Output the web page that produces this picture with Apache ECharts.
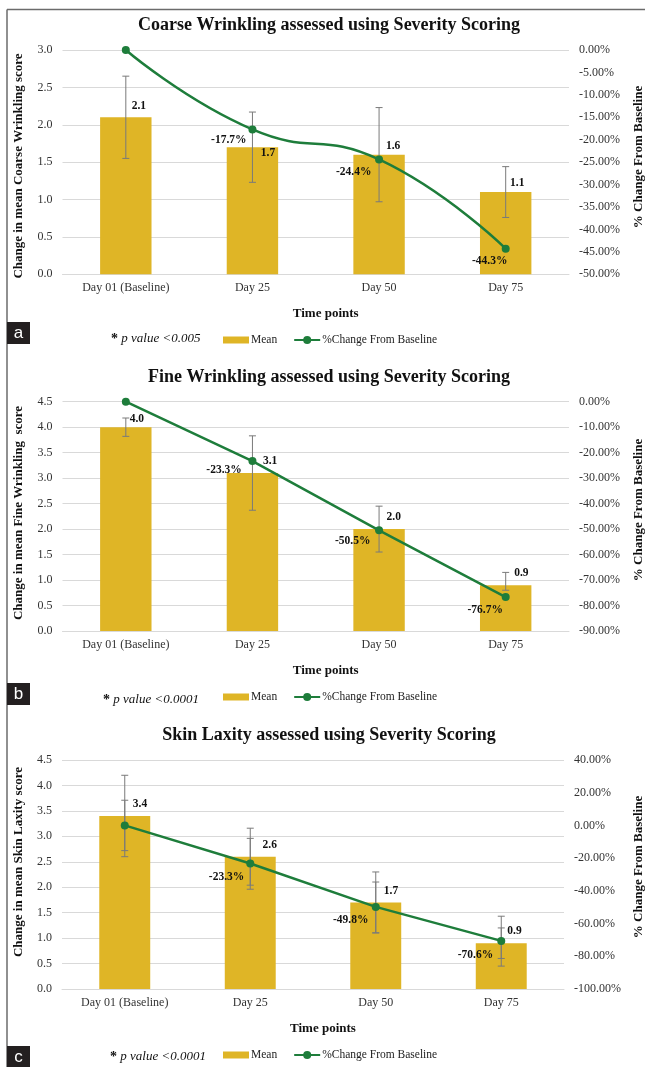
<!DOCTYPE html>
<html>
<head>
<meta charset="utf-8">
<title>Severity Scoring</title>
<script src="https://cdn.jsdelivr.net/npm/echarts@6/dist/echarts.min.js"></script>
<style>
  html, body { margin: 0; padding: 0; background: #fff; }
  #chart { width: 645px; height: 1067px; }
</style>
</head>
<body>
<div id="chart"></div>
<script>
// ---- data ----
const categories = ['Day 01 (Baseline)', 'Day 25', 'Day 50', 'Day 75'];

const coarseMean = [2.1, 1.7, 1.6, 1.1];
const coarsePct = [0, -17.7, -24.4, -44.3];
const coarseErrLow = [1.55, 1.23, 0.97, 0.76];
const coarseErrHigh = [2.65, 2.17, 2.23, 1.44];

const fineMean = [4.0, 3.1, 2.0, 0.9];
const finePct = [0, -23.3, -50.5, -76.7];
const fineErrLow = [3.82, 2.37, 1.55, 0.80];
const fineErrHigh = [4.18, 3.83, 2.45, 1.15];

const laxityMean = [3.4, 2.6, 1.7, 0.9];
const laxityPct = [0, -23.3, -49.8, -70.6];
const laxityErrLow = [2.60, 2.04, 1.10, 0.60];
const laxityErrHigh = [4.20, 3.16, 2.30, 1.20];
const laxityPctErrLow = [-15.4, -39.0, -65.6, -86.0];
const laxityPctErrHigh = [15.4, -7.9, -34.6, -55.5];

const titles = [
  'Coarse Wrinkling assessed using Severity Scoring',
  'Fine Wrinkling assessed using Severity Scoring',
  'Skin Laxity assessed using Severity Scoring'
];
const leftAxisNames = [
  'Change in mean Coarse Wrinkling score',
  'Change in mean Fine Wrinkling  score',
  'Change in mean Skin Laxity score'
];
const rightAxisName = '% Change From Baseline';
const xAxisName = 'Time points';
const pValues = ['p value <0.005', 'p value <0.0001', 'p value <0.0001'];
const panelLetters = ['a', 'b', 'c'];
const meanName = 'Mean';
const pctName = '%Change From Baseline';

// left/right axis ranges
const leftMax = [3, 4.5, 4.5];
const rightMin = [-50, -90, -100];
const rightMax = [0, 0, 40];
const rightStep = [5, 10, 20];

// ---- layout & style ----
const SERIF = '"Liberation Serif", "Times New Roman", serif';
const BAR = '#DFB526';
const GREEN = '#1E7D3B';
const GRID_LINE = '#D9D9D9';
const ERR = '#7a7a7a';

const grids = [
  { left: 62.5, top: 50, width: 506.5, height: 224.3 },
  { left: 62.5, top: 401.7, width: 506.5, height: 229.3 },
  { left: 62, top: 760, width: 502, height: 229 }
];
const titleY = [25, 377, 735];
const leftNameY = [166, 513, 862];
const rightNameY = [157, 510, 867];
const timePointsY = [314, 671, 1029];
const legendY = [339, 696, 1054];
const pValueY = [337, 698, 1055];
const pValueX = [111, 103, 110];
const letterBoxY = [322, 683, 1046];

// label offsets (label centre relative to bar top / point centre)
const barLabelOffsets = [
  [[13, -11], [15.5, 6], [14, -8.5], [11.5, -8.7]],
  [[11, -8], [17.7, -12], [14.7, -11.8], [15.7, -11.9]],
  [[15.2, -11.7], [19.5, -11.7], [15.2, -11.8], [13.3, -12.5]]
];
const pctLabelOffsets = [
  [null, [-23.6, 10.7], [-25.3, 12.4], [-16, 12]],
  [null, [-28.4, 9.3], [-26.3, 10.4], [-20.5, 13]],
  [null, [-23.7, 13.8], [-25.1, 12.8], [-25.8, 14.1]]
];

const panels = [
  { mean: coarseMean, pct: coarsePct, lo: coarseErrLow, hi: coarseErrHigh, smooth: true },
  { mean: fineMean, pct: finePct, lo: fineErrLow, hi: fineErrHigh, smooth: false },
  { mean: laxityMean, pct: laxityPct, lo: laxityErrLow, hi: laxityErrHigh, smooth: false,
    pctLo: laxityPctErrLow, pctHi: laxityPctErrHigh }
];

function errorBars(gi, yIndex, low, high) {
  return {
    type: 'custom',
    xAxisIndex: gi,
    yAxisIndex: yIndex,
    z: 3,
    silent: true,
    data: low.map((l, i) => [i, l, high[i]]),
    encode: { x: 0, y: [1, 2] },
    renderItem: function (params, api) {
      const x = api.value(0);
      const a = api.coord([x, api.value(1)]);
      const b = api.coord([x, api.value(2)]);
      const cap = 3.5;
      const style = { stroke: ERR, lineWidth: 1 };
      return {
        type: 'group',
        children: [
          { type: 'line', shape: { x1: a[0], y1: a[1], x2: b[0], y2: b[1] }, style: style },
          { type: 'line', shape: { x1: a[0] - cap, y1: a[1], x2: a[0] + cap, y2: a[1] }, style: style },
          { type: 'line', shape: { x1: b[0] - cap, y1: b[1], x2: b[0] + cap, y2: b[1] }, style: style }
        ]
      };
    }
  };
}

const xAxis = [], yAxis = [], series = [], legend = [], graphic = [];

// outer frame (top and left edges)
graphic.push({ type: 'line', shape: { x1: 7, y1: 9.5, x2: 645, y2: 9.5 }, style: { stroke: '#6b6b6b', lineWidth: 1.5 } });
graphic.push({ type: 'line', shape: { x1: 7, y1: 9.5, x2: 7, y2: 1067 }, style: { stroke: '#6b6b6b', lineWidth: 1.5 } });

panels.forEach((p, gi) => {
  const g = grids[gi];
  xAxis.push({
    type: 'category', gridIndex: gi, data: categories,
    axisTick: { show: false },
    axisLine: { lineStyle: { color: GRID_LINE, width: 1 } },
    axisLabel: { fontFamily: SERIF, fontSize: 12, color: '#333', margin: 8 }
  });
  yAxis.push({
    type: 'value', gridIndex: gi, min: 0, max: leftMax[gi], interval: 0.5,
    axisLine: { show: false }, axisTick: { show: false },
    splitLine: { lineStyle: { color: GRID_LINE, width: 1 } },
    axisLabel: { fontFamily: SERIF, fontSize: 12, color: '#333', margin: 10,
      formatter: v => v.toFixed(1) }
  });
  yAxis.push({
    type: 'value', gridIndex: gi, position: 'right',
    min: rightMin[gi], max: rightMax[gi], interval: rightStep[gi],
    axisLine: { show: false }, axisTick: { show: false }, splitLine: { show: false },
    axisLabel: { fontFamily: SERIF, fontSize: 12, color: '#333', margin: 10,
      formatter: v => v.toFixed(2) + '%' }
  });

  series.push({
    name: meanName, type: 'bar', xAxisIndex: gi, yAxisIndex: 2 * gi,
    barWidth: '40.6%', z: 2,
    itemStyle: { color: BAR },
    label: {
      show: true, position: 'top', distance: 0,
      fontFamily: SERIF, fontWeight: 'bold', fontSize: 11.5, lineHeight: 12, color: '#111',
      formatter: d => d.value.toFixed(1)
    },
    data: p.mean.map((v, i) => ({
      value: v,
      label: { offset: [barLabelOffsets[gi][i][0], barLabelOffsets[gi][i][1] + 6] }
    }))
  });

  series.push(errorBars(gi, 2 * gi, p.lo, p.hi));
  if (p.pctLo) series.push(errorBars(gi, 2 * gi + 1, p.pctLo, p.pctHi));

  series.push({
    name: pctName, type: 'line', xAxisIndex: gi, yAxisIndex: 2 * gi + 1,
    smooth: p.smooth, z: 5,
    symbol: 'circle', symbolSize: 8,
    lineStyle: { color: GREEN, width: 2.5 },
    itemStyle: { color: GREEN },
    label: {
      show: true, position: 'inside',
      fontFamily: SERIF, fontWeight: 'bold', fontSize: 11.5, color: '#111',
      formatter: d => d.value.toFixed(1) + '%'
    },
    data: p.pct.map((v, i) => {
      const off = pctLabelOffsets[gi][i];
      return off ? { value: v, label: { offset: off } } : { value: v, label: { show: false } };
    })
  });

  legend.push({
    left: 223, top: legendY[gi] - 10,
    padding: [5, 0, 5, 0],
    itemWidth: 26, itemHeight: 10, itemGap: 16,
    selectedMode: false,
    textStyle: { fontFamily: SERIF, fontSize: 11.5, color: '#222', padding: [0, 0, 0, -3] },
    data: [
      { name: meanName, icon: 'path://M0 0H26V7H0Z' },
      { name: pctName }
    ]
  });

  // title
  graphic.push({ type: 'text', x: 329, y: titleY[gi],
    style: { text: titles[gi], font: 'bold 18px ' + SERIF, fill: '#111',
      textAlign: 'center', textVerticalAlign: 'middle' } });
  // axis names
  graphic.push({ type: 'text', x: 19, y: leftNameY[gi], rotation: Math.PI / 2,
    style: { text: leftAxisNames[gi], font: 'bold 13px ' + SERIF, fill: '#111',
      textAlign: 'center', textVerticalAlign: 'middle' } });
  graphic.push({ type: 'text', x: 639, y: rightNameY[gi], rotation: Math.PI / 2,
    style: { text: rightAxisName, font: 'bold 13px ' + SERIF, fill: '#111',
      textAlign: 'center', textVerticalAlign: 'middle' } });
  graphic.push({ type: 'text', x: g.left + g.width / 2 + 10, y: timePointsY[gi],
    style: { text: xAxisName, font: 'bold 13px ' + SERIF, fill: '#111',
      textAlign: 'center', textVerticalAlign: 'middle' } });
  // significance note
  graphic.push({ type: 'text', x: pValueX[gi], y: pValueY[gi] + 2,
    style: { text: '{s|*} {p|' + pValues[gi] + '}', textVerticalAlign: 'middle',
      rich: {
        s: { font: 'bold 14px ' + SERIF, fill: '#111' },
        p: { font: 'italic 13px ' + SERIF, fill: '#111' }
      } } });
  // panel letter
  graphic.push({ type: 'rect', shape: { x: 7, y: letterBoxY[gi], width: 23, height: 22 },
    style: { fill: '#231f20' } });
  graphic.push({ type: 'text', x: 18.5, y: letterBoxY[gi] + 11,
    style: { text: panelLetters[gi], font: '17px "Liberation Sans", Arial, sans-serif', fill: '#fff',
      textAlign: 'center', textVerticalAlign: 'middle' } });
});

const chart = echarts.init(document.getElementById('chart'), null, { renderer: 'canvas' });
chart.setOption({
  animation: false,
  backgroundColor: '#fff',
  grid: grids,
  xAxis: xAxis,
  yAxis: yAxis,
  legend: legend,
  series: series,
  graphic: graphic
});
</script>
</body>
</html>
